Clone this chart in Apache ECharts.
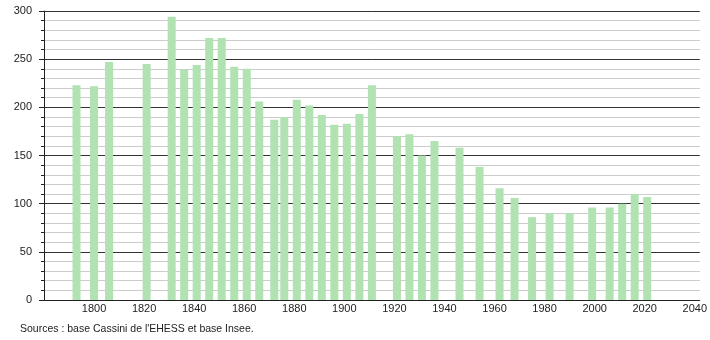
<!DOCTYPE html>
<html><head><meta charset="utf-8">
<script src="https://cdn.jsdelivr.net/npm/echarts@6/dist/echarts.min.js"></script>
<style>html,body{margin:0;padding:0;background:#fff}#c{width:710px;height:340px}</style>
</head><body><div id="c"></div>
<script>
const years = [1793,1800,1806,1821,1831,1836,1841,1846,1851,1856,1861,1866,1872,1876,1881,1886,1891,1896,1901,1906,1911,1921,1926,1931,1936,1946,1954,1962,1968,1975,1982,1990,1999,2006,2011,2016,2021];
const population = [223,222,247,245,294,239,244,272,272,242,240,206,187,190,208,202,192,182,183,193,223,170,172,150,165,158,138,116,106,86,90,90,96,96,100,110,107];
const xTicks = [1800,1820,1840,1860,1880,1900,1920,1940,1960,1980,2000,2020,2040];
const yTicks = [0,50,100,150,200,250,300];
const sourceText = "Sources : base Cassini de l'EHESS et base Insee.";

const chart = echarts.init(document.getElementById('c'), null, {renderer:'canvas'});
const font = '"Liberation Sans", Arial, sans-serif';
chart.setOption({
  animation:false,
  grid:{left:44,right:10,top:11,bottom:40,containLabel:false},
  xAxis:{type:'value',min:1780,max:2042,interval:20,
    axisLine:{show:true,lineStyle:{color:'#222',width:1}},
    axisTick:{show:false},splitLine:{show:false},
    axisLabel:{color:'#222',fontSize:11,fontFamily:font,margin:3,
      showMinLabel:false,
      formatter:v=>xTicks.includes(v)?String(v):''}},
  yAxis:{type:'value',min:0,max:300,interval:50,
    axisLine:{show:true,lineStyle:{color:'#222',width:1}},
    axisTick:{show:true,length:5,lineStyle:{color:'#222'}},
    minorTick:{show:true,splitNumber:5,length:3,lineStyle:{color:'#222'}},
    splitLine:{show:true,lineStyle:{color:'#333',width:1}},
    minorSplitLine:{show:true,lineStyle:{color:'#cccccc',width:1}},
    axisLabel:{color:'#222',fontSize:11,fontFamily:font,margin:12,
      formatter:v=>yTicks.includes(v)?String(v):''}},
  series:[{type:'bar',barWidth:8,
    itemStyle:{color:'#b1e2b1'},
    data:years.map((y,i)=>[y,population[i]])}],
  graphic:[{type:'text',left:20,top:324,
    style:{text:sourceText,fill:'#222',font:'10.5px '+font}}]
});
</script></body></html>
